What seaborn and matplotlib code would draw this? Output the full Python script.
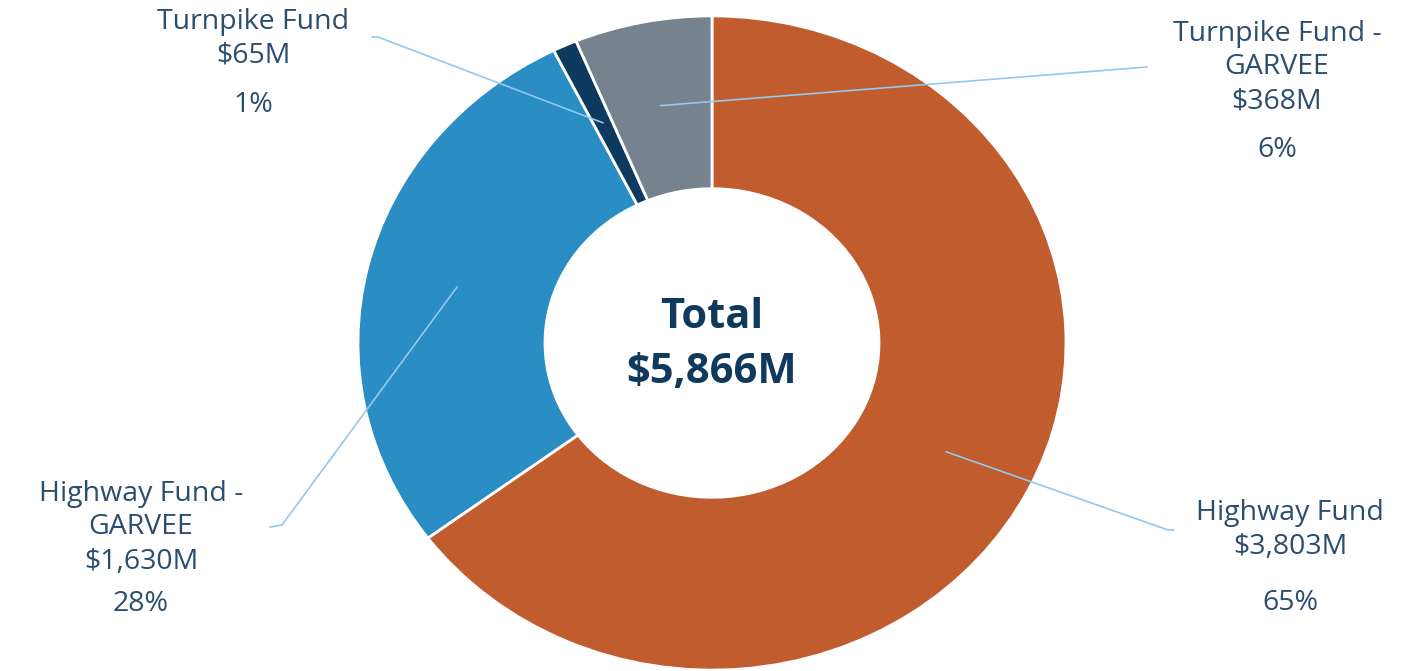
import numpy as np
import matplotlib
matplotlib.use("Agg")
import matplotlib.pyplot as plt
import seaborn as sns

# Funding sources (millions of dollars)
sources = ["Highway Fund", "Highway Fund -\nGARVEE", "Turnpike Fund", "Turnpike Fund -\nGARVEE"]
amounts = [3803, 1630, 65, 368]
colors = ["#C05C2E", "#2A8DC3", "#0D3A5E", "#76838F"]
total_lines = ["Total", "$5,866M"]

sns.set_theme(style="white")
plt.rcParams["font.family"] = ["Open Sans", "DejaVu Sans"]

W, H = 1409, 671
S = 0.924  # vertical squash of the ring
fig = plt.figure(figsize=(W / 100, H / 100), dpi=100)
ax = fig.add_axes([0, 0, 1, 1])


def Y(px):
    """pixel row (from top) -> data y"""
    return (H - px) / S


cx, cy = 712, Y(343)
R_out, R_in = 354, 167
wedges, _ = ax.pie(amounts, colors=colors, startangle=90, counterclock=False,
                   center=(cx, cy), radius=R_out, frame=True,
                   wedgeprops=dict(width=R_out - R_in, edgecolor="white", linewidth=2))
ax.set_xlim(0, W)
ax.set_ylim(0, H / S)
ax.set_aspect("auto")
ax.axis("off")

text_color = "#2B4D6E"
line_color = "#93C8EF"
total = sum(amounts)

# label layout: text centre x, line rows (px from top), percent row, leader elbow points
layout = {
    "Highway Fund": dict(tx=1290, rows=[513, 547], py=603, elbow=[(1168, 530), (1174, 530)]),
    "Highway Fund -\nGARVEE": dict(tx=141, rows=[494, 527, 562], py=604, elbow=[(282, 525), (270, 527)]),
    "Turnpike Fund": dict(tx=253, rows=[22, 55], py=105, elbow=[(378, 37), (372, 37)]),
    "Turnpike Fund -\nGARVEE": dict(tx=1277, rows=[34, 67, 102], py=150, elbow=[(1147, 67)]),
}

fs = 20.5
for w, name, amt in zip(wedges, sources, amounts):
    L = layout[name]
    mid = np.deg2rad((w.theta1 + w.theta2) / 2)
    a_x, a_y = cx + 262 * np.cos(mid), cy + 262 * np.sin(mid)
    xs = [a_x] + [p[0] for p in L["elbow"]]
    ys = [a_y] + [Y(p[1]) for p in L["elbow"]]
    ax.plot(xs, ys, color=line_color, lw=1.2, solid_capstyle="round")
    lines = name.split("\n") + [f"${amt:,}M"]
    for txt, row in zip(lines, L["rows"]):
        ax.text(L["tx"], Y(row), txt, ha="center", va="center",
                fontsize=fs, color=text_color)
    ax.text(L["tx"], Y(L["py"]), f"{round(100 * amt / total)}%", ha="center",
            va="center", fontsize=fs, color=text_color)

for txt, row in zip(total_lines, [318, 373]):
    ax.text(cx, Y(row), txt, ha="center", va="center", fontsize=30,
            fontweight="bold", color="#10395E")

fig.savefig("out.png", dpi=100, facecolor="white")
